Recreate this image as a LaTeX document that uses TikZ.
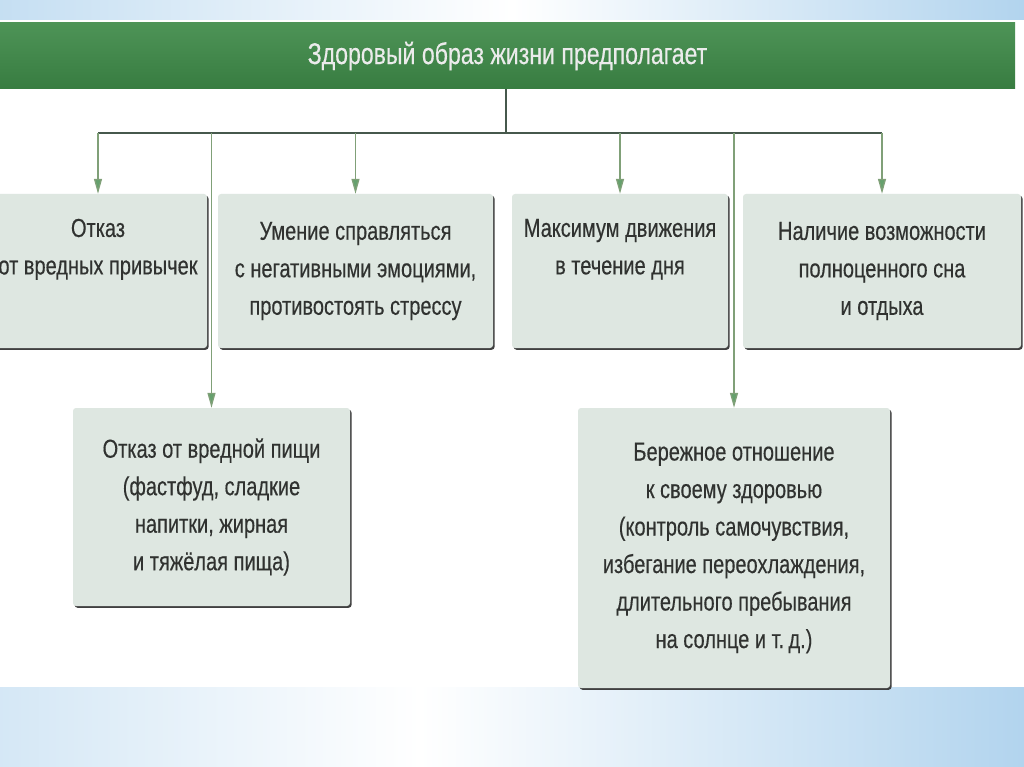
\documentclass[tikz,border=0pt]{standalone}
\usepackage{fontspec}
\setmainfont[FakeStretch=0.77, FakeBold=0.35]{Liberation Sans}
\usetikzlibrary{arrows.meta}
\usetikzlibrary{shadows,positioning}

\definecolor{headgreen}{RGB}{62,138,72}
\definecolor{boxfill}{RGB}{222,231,225}
\definecolor{textgray}{RGB}{48,50,48}
\definecolor{linkgreen}{RGB}{128,160,120}
\definecolor{busgray}{RGB}{70,88,76}
\definecolor{bandblue}{RGB}{178,212,238}

\begin{document}
\begin{tikzpicture}[x=1pt, y=-1pt,
    every node/.style={font=\fontsize{26}{37.5}\selectfont, text=textgray},
    box/.style={fill=boxfill, rounded corners=3pt, align=center, inner sep=0pt,
        drop shadow={shadow xshift=1.6pt, shadow yshift=-1.8pt, fill=black!75, opacity=1}},
    header/.style={top color=headgreen!92!white, bottom color=headgreen!90!black, draw=none,
        minimum width=1015pt, minimum height=66pt, font=\fontsize{30}{36}\selectfont, text=white!92!black},
    bus/.style={line width=1.6pt, draw=busgray},
    link/.style={line width=1.3pt, draw=linkgreen, -{Triangle[length=15pt, width=8pt, fill=headgreen!80!white]}}]

    \useasboundingbox (0,0) rectangle (1024,767);
    \fill[white] (0,0) rectangle (1024,767);

    % blue bands
    \shade[left color=bandblue!75, right color=white] (0,0) rectangle (512,20);
    \shade[left color=white, right color=bandblue] (512,0) rectangle (1024,20);
    \shade[left color=bandblue!55, right color=white] (0,687) rectangle (420,767);
    \shade[left color=white, right color=bandblue] (420,687) rectangle (1024,767);

    \node [header] (head) at (507.5,56) {Здоровый образ жизни предполагает};

    \node [box, minimum width=218pt, minimum height=154pt] (habits) at (98,271) {Отказ\\от вредных привычек\\\strut};
    \node [box, minimum width=275pt, minimum height=154pt] (stress) at (355.5,271) {Умение справляться\\с негативными эмоциями,\\противостоять стрессу};
    \node [box, minimum width=216pt, minimum height=154pt] (motion) at (620,271) {Максимум движения\\в течение дня\\\strut};
    \node [box, minimum width=278pt, minimum height=154pt] (sleep) at (882,271) {Наличие возможности\\полноценного сна\\и отдыха};

    \node [box, minimum width=277pt, minimum height=198pt] (food) at (211.5,507) {Отказ от вредной пищи\\(фастфуд, сладкие\\напитки, жирная\\и тяжёлая пища)};
    \node [box, minimum width=312pt, minimum height=280pt] (health) at (734,548) {Бережное отношение\\к своему здоровью\\(контроль самочувствия,\\избегание переохлаждения,\\длительного пребывания\\на солнце и т.\,д.)};

    \coordinate (hub) at (506,133);

    \draw [bus] (head.south -| hub) -- (hub);
    \draw [bus] (habits.north |- hub) -- (sleep.north |- hub);

    \draw [link] (habits.north |- hub) -- (habits.north);
    \draw [link] (stress.north |- hub) -- (stress.north);
    \draw [link] (motion.north |- hub) -- (motion.north);
    \draw [link] (sleep.north |- hub) -- (sleep.north);

    \draw [link] (food.north |- hub) -- (food.north);
    \draw [link] (health.north |- hub) -- (health.north);
\end{tikzpicture}
\end{document}
